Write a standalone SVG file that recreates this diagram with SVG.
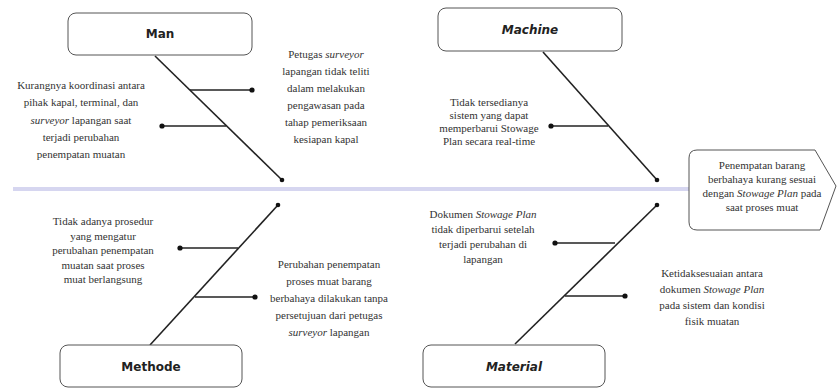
<svg xmlns="http://www.w3.org/2000/svg" width="837" height="388" viewBox="0 0 837 388">
<style>
.box{fill:#fff;stroke:#555;stroke-width:1}
.lbl{font-family:"DejaVu Sans",sans-serif;font-weight:bold;font-size:12px;fill:#222;text-anchor:middle}
.it{font-style:italic}
.t{font-family:"Liberation Serif","Times New Roman","DejaVu Serif",serif;font-size:11px;fill:#333;text-anchor:middle}
.bone{stroke:#222;stroke-width:1.6;fill:none}
.br{stroke:#222;stroke-width:1.6;fill:none}
.dot{fill:#111}
.spine{stroke:#d6d6f0;stroke-width:4;fill:none}
</style>
<g id="spine"><line class="spine" x1="13" y1="189" x2="690" y2="189"/></g>
<g id="connectors">
<line class="bone" x1="155" y1="56" x2="282" y2="180"/>
<circle class="dot" cx="282" cy="180" r="2.3"/>
<line class="br" x1="190" y1="90" x2="252" y2="90"/><circle class="dot" cx="252" cy="90" r="2.6"/>
<line class="br" x1="226" y1="126" x2="162" y2="126"/><circle class="dot" cx="162" cy="126" r="2.6"/>
<line class="bone" x1="543" y1="52" x2="657" y2="180"/>
<circle class="dot" cx="657" cy="180" r="2.3"/>
<line class="br" x1="608" y1="126" x2="551" y2="126"/><circle class="dot" cx="551" cy="126" r="2.6"/>
<line class="bone" x1="150" y1="345" x2="278" y2="205"/>
<circle class="dot" cx="278" cy="205" r="2.3"/>
<line class="br" x1="238" y1="248" x2="180" y2="248"/><circle class="dot" cx="180" cy="248" r="2.6"/>
<line class="br" x1="195" y1="297" x2="255" y2="297"/><circle class="dot" cx="255" cy="297" r="2.6"/>
<line class="bone" x1="515" y1="344" x2="657" y2="205"/>
<circle class="dot" cx="657" cy="205" r="2.3"/>
<line class="br" x1="615" y1="243" x2="555" y2="243"/><circle class="dot" cx="555" cy="243" r="2.6"/>
<line class="br" x1="565" y1="296" x2="625" y2="296"/><circle class="dot" cx="625" cy="296" r="2.6"/>
</g>
<g id="man">
<rect class="box" x="68" y="13" width="184" height="42" rx="8"/>
<text class="lbl" x="160" y="38">Man</text>
</g>
<g id="machine">
<rect class="box" x="438" y="8" width="184" height="43" rx="8"/>
<text class="lbl it" x="530" y="34">Machine</text>
</g>
<g id="methode">
<rect class="box" x="60" y="345" width="182" height="42" rx="8"/>
<text class="lbl" x="151" y="371">Methode</text>
</g>
<g id="material">
<rect class="box" x="423" y="345" width="182" height="42" rx="8"/>
<text class="lbl it" x="514" y="371">Material</text>
</g>
<g id="head">
<path class="box" d="M697,150 H815 L836,186 L820,230 H697 Q689,230 689,222 V158 Q689,150 697,150 Z"/>
<text class="t"><tspan x="762" y="169">Penempatan barang</tspan><tspan x="762" y="183">berbahaya kurang sesuai</tspan><tspan x="762" y="197">dengan <tspan class="it">Stowage Plan</tspan> pada</tspan><tspan x="762" y="211">saat proses muat</tspan></text>
</g>
<g id="man-causes">
<text class="t"><tspan x="81" y="89">Kurangnya koordinasi antara</tspan><tspan x="81" y="106">pihak kapal, terminal, dan</tspan><tspan x="81" y="124"><tspan class="it">surveyor</tspan> lapangan saat</tspan><tspan x="81" y="141">terjadi perubahan</tspan><tspan x="81" y="158">penempatan muatan</tspan></text>
<text class="t"><tspan x="326" y="58">Petugas <tspan class="it">surveyor</tspan></tspan><tspan x="326" y="75">lapangan tidak teliti</tspan><tspan x="326" y="92">dalam melakukan</tspan><tspan x="326" y="109">pengawasan pada</tspan><tspan x="326" y="126">tahap pemeriksaan</tspan><tspan x="326" y="143">kesiapan kapal</tspan></text>
</g>
<g id="machine-causes">
<text class="t"><tspan x="489" y="106">Tidak tersedianya</tspan><tspan x="489" y="119">sistem yang dapat</tspan><tspan x="489" y="132">memperbarui Stowage</tspan><tspan x="489" y="145">Plan secara real-time</tspan></text>
</g>
<g id="methode-causes">
<text class="t"><tspan x="103" y="225">Tidak adanya prosedur</tspan><tspan x="103" y="239.5">yang mengatur</tspan><tspan x="103" y="254">perubahan penempatan</tspan><tspan x="103" y="268.5">muatan saat proses</tspan><tspan x="103" y="283">muat berlangsung</tspan></text>
<text class="t"><tspan x="329" y="268">Perubahan penempatan</tspan><tspan x="329" y="285">proses muat barang</tspan><tspan x="329" y="302">berbahaya dilakukan tanpa</tspan><tspan x="329" y="319">persetujuan dari petugas</tspan><tspan x="329" y="336"><tspan class="it">surveyor</tspan> lapangan</tspan></text>
</g>
<g id="material-causes">
<text class="t"><tspan x="483" y="218">Dokumen <tspan class="it">Stowage Plan</tspan></tspan><tspan x="483" y="233">tidak diperbarui setelah</tspan><tspan x="483" y="248">terjadi perubahan di</tspan><tspan x="483" y="263">lapangan</tspan></text>
<text class="t"><tspan x="712" y="277">Ketidaksesuaian antara</tspan><tspan x="712" y="293">dokumen <tspan class="it">Stowage Plan</tspan></tspan><tspan x="712" y="309">pada sistem dan kondisi</tspan><tspan x="712" y="325">fisik muatan</tspan></text>
</g>
</svg>
